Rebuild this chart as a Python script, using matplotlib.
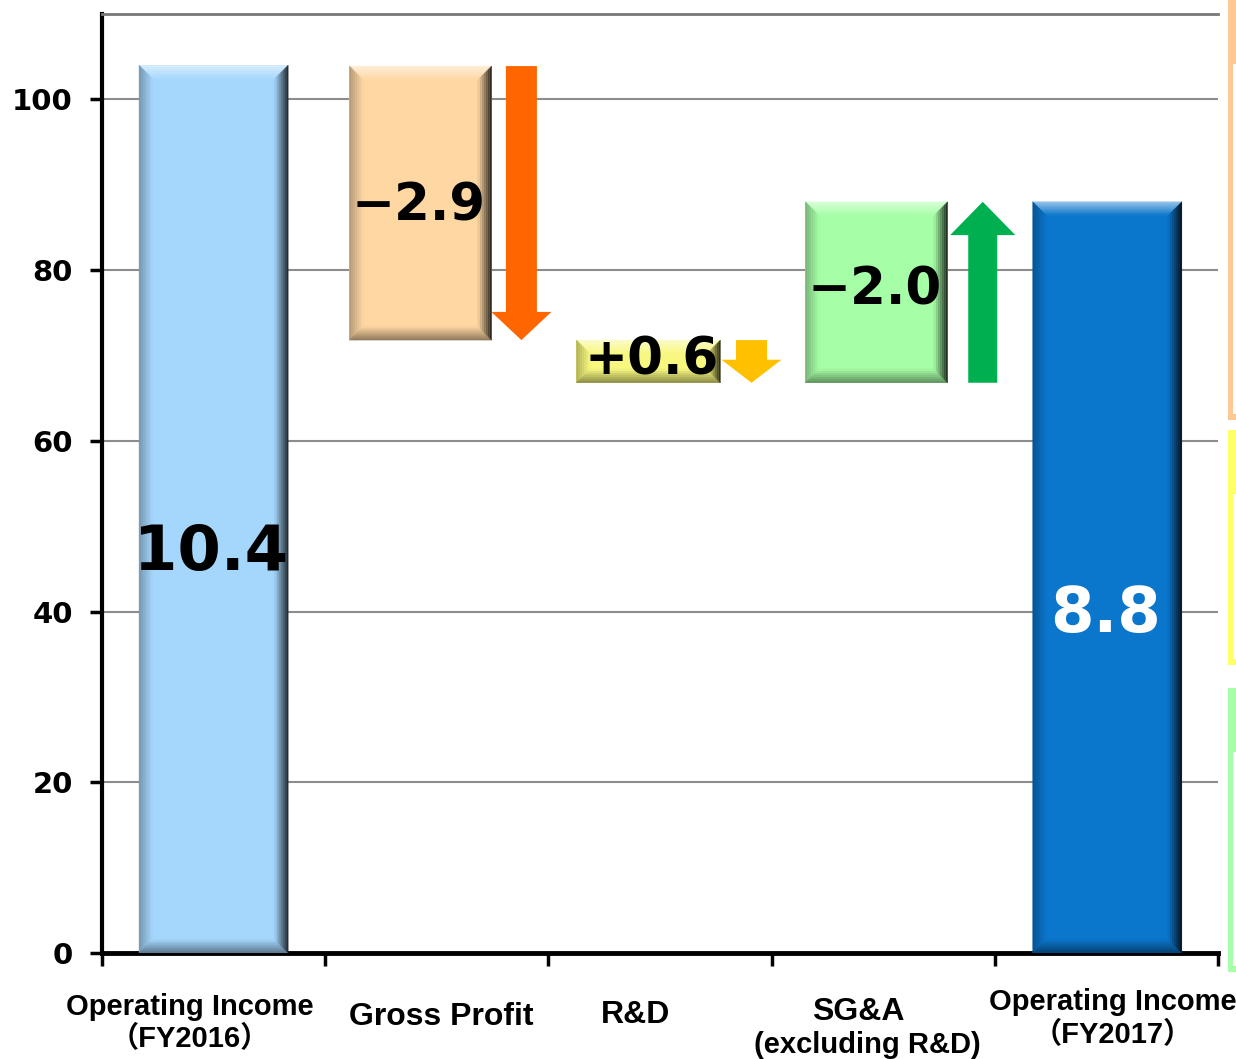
import numpy as np
import matplotlib
matplotlib.use('Agg')
import matplotlib.pyplot as plt
from matplotlib.patches import Polygon, Rectangle, FancyArrow
from matplotlib.colors import to_rgb
import matplotlib.transforms as mtransforms

# operating income bridge, FY2016 -> FY2017 (index scale: 10.4 -> 104)
categories = ["Operating Income\n（FY2016）", "Gross Profit", "R&D",
              "SG&A\n(excluding R&D)", "Operating Income\n（FY2017）"]
income_start = 10.4
income_end = 8.8
# running levels after each step, read on the same 0-110 axis
step_levels = [103.9, 71.8, 66.8, 88.0]
bar_labels = ["10.4", "−2.9", "+0.6", "−2.0", "8.8"]

# layout / style
W, H = 1236, 1059
bar_centers = [0.0, 0.927, 1.948, 2.970, 4.004]
bar_widths = [0.668, 0.637, 0.645, 0.637, 0.668]
bar_colors = ["#a5d7fd", "#fed7a3", "#f8f880", "#a6fea6", "#0a76cc"]
arrow_x = [1.379, 2.410, 3.446]
arrow_colors = ["#ff6600", "#ffc000", "#00b050"]
arrow_shaft = [0.139, 0.139, 0.130]
arrow_head = [0.269, 0.269, 0.292]
arrow_head_len = [3.3, 2.7, 3.9]
label_pos = [(-0.012, 46.9), (0.920, 87.4), (1.964, 69.4), (2.960, 77.6), (3.998, 39.6)]
label_sizes = [45, 37, 37, 37, 45]
label_colors = ["black", "black", "black", "black", "white"]
cat_pos = [(-0.105, -0.057), (1.02, -0.068), (1.89, -0.066), (2.89, -0.063), (4.03, -0.052)]
cat_size = [21, 23, 23, 23, 21]

PX_X = 1116 / 5.0   # pixels per category unit
PX_Y = 939 / 110.0  # pixels per y unit


def mix(c, other, t):
    c = np.array(to_rgb(c))
    o = np.array(to_rgb(other))
    return tuple(c * (1 - t) + o * t)


def bevel_bar(ax, x0, x1, y0, y1, color, bev=14, n=7):
    bx = bev / PX_X
    by = bev / PX_Y
    ax.add_patch(Rectangle((x0, y0), x1 - x0, y1 - y0, facecolor=color,
                           edgecolor='none', zorder=3))
    # outer colour of each bevel side
    sides = {
        'top': mix(color, 'white', 0.6),
        'left': mix(color, 'black', 0.30),
        'bottom': mix(color, 'black', 0.45),
        'right': mix(color, 'black', 0.85),
    }
    for j in range(n):
        a = j / n
        b = (j + 1) / n
        t = (j + 0.5) / n
        for side, outer in sides.items():
            c = tuple(np.array(outer) * (1 - t) + np.array(to_rgb(color)) * t)
            if side == 'top':
                pts = [(x0 + a * bx, y1 - a * by), (x1 - a * bx, y1 - a * by),
                       (x1 - b * bx, y1 - b * by), (x0 + b * bx, y1 - b * by)]
            elif side == 'bottom':
                pts = [(x0 + a * bx, y0 + a * by), (x1 - a * bx, y0 + a * by),
                       (x1 - b * bx, y0 + b * by), (x0 + b * bx, y0 + b * by)]
            elif side == 'left':
                pts = [(x0 + a * bx, y0 + a * by), (x0 + a * bx, y1 - a * by),
                       (x0 + b * bx, y1 - b * by), (x0 + b * bx, y0 + b * by)]
            else:
                pts = [(x1 - a * bx, y0 + a * by), (x1 - a * bx, y1 - a * by),
                       (x1 - b * bx, y1 - b * by), (x1 - b * bx, y0 + b * by)]
            ax.add_patch(Polygon(pts, closed=True, facecolor=c, edgecolor=c,
                                 linewidth=0.3, zorder=3))


fig = plt.figure(figsize=(W / 100, H / 100), dpi=100)
ax = fig.add_axes([102 / W, 1 - 953 / H, 1116 / W, 939 / H])

ax.set_xlim(-0.5, 4.5)
ax.set_ylim(0, 110)

# bar extents
bottoms = [0, step_levels[1], step_levels[2], step_levels[2], 0]
tops = [income_start * 10, step_levels[0], step_levels[1], step_levels[3], income_end * 10]
for i in range(len(categories)):
    x0 = bar_centers[i] - bar_widths[i] / 2
    x1 = bar_centers[i] + bar_widths[i] / 2
    bevel_bar(ax, x0, x1, bottoms[i], tops[i], bar_colors[i])

# arrows beside the step bars
for k in range(3):
    y_from = step_levels[k]
    y_to = step_levels[k + 1]
    ax.add_patch(FancyArrow(arrow_x[k], y_from, 0, y_to - y_from,
                            width=arrow_shaft[k], head_width=arrow_head[k],
                            head_length=arrow_head_len[k], length_includes_head=True,
                            facecolor=arrow_colors[k], edgecolor='none', zorder=3))

for i, lab in enumerate(bar_labels):
    ax.text(label_pos[i][0], label_pos[i][1], lab, ha='center', va='center',
            fontsize=label_sizes[i], fontweight='bold', color=label_colors[i],
            family='DejaVu Sans', zorder=5)

# axes styling
ax.set_yticks([0, 20, 40, 60, 80, 100])
ax.set_yticklabels(["0", "20", "40", "60", "80", "100"])
ax.yaxis.grid(True, color='#8c8c8c', linewidth=1.5)
ax.set_axisbelow(True)
ax.set_xticks([-0.5, 0.5, 1.5, 2.5, 3.5, 4.5])
ax.set_xticklabels([])
ax.tick_params(axis='y', direction='out', length=9, width=2.5, pad=12,
               labelsize=21, colors='black')
ax.tick_params(axis='x', direction='out', length=9, width=2.5)
for lbl in ax.get_yticklabels():
    lbl.set_fontweight('bold')
    lbl.set_family('DejaVu Sans')
ax.spines['left'].set_linewidth(3)
ax.spines['bottom'].set_linewidth(3.5)
ax.spines['top'].set_color('#777777')
ax.spines['top'].set_linewidth(2)
ax.spines['right'].set_visible(False)

# category names below the axis
trans = mtransforms.blended_transform_factory(ax.transData, ax.transAxes)
for i, cat in enumerate(categories):
    lines = cat.split("\n")
    x, y = cat_pos[i]
    ax.text(x, y, lines[0], transform=trans, ha='center', va='center',
            fontsize=cat_size[i], fontweight='bold',
            family=['Liberation Sans', 'Noto Sans CJK JP'], clip_on=False)
    if len(lines) > 1:
        ax.text(x + (0.04 if i == 3 else 0), y - 0.035, lines[1], transform=trans,
                ha='center', va='center', fontsize=cat_size[i] if i != 3 else 21,
                fontweight='bold', family=['Liberation Sans', 'Noto Sans CJK JP'],
                clip_on=False)

# side panels partially in view at the right edge
side_boxes = [(0, 420, "#fec894"), (430, 665, "#ffff66"), (688, 972, "#a6fea6")]
for (ya, yb, col) in side_boxes:
    fig.add_artist(Rectangle((1228 / W, 1 - yb / H), 8 / W, (yb - ya) / H,
                             transform=fig.transFigure, facecolor=col, edgecolor='none'))
    fig.add_artist(Rectangle((1233 / W, 1 - (yb - 6) / H), 4 / W, (yb - ya - 70) / H,
                             transform=fig.transFigure, facecolor='white', edgecolor='none'))

fig.savefig("out.png", dpi=100)
